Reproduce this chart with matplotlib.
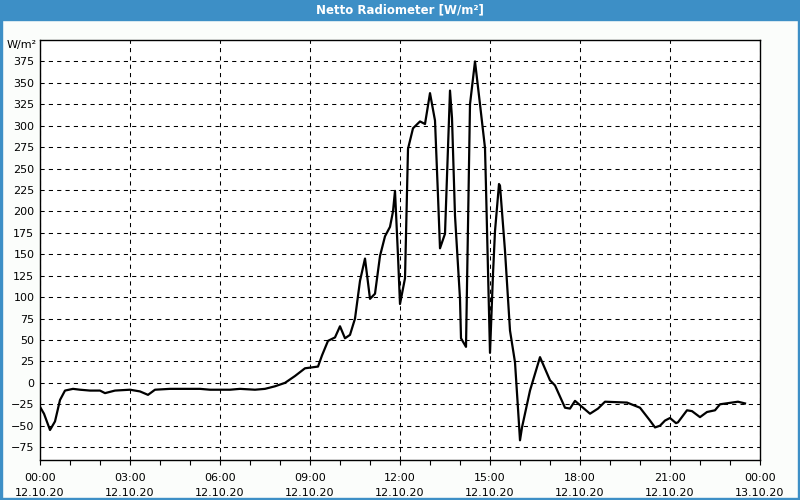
import matplotlib
matplotlib.use("Agg")
import matplotlib.pyplot as plt
import matplotlib.dates as mdates
import pandas as pd

# Netto Radiometer, 12.10.20
times = ["00:00", "00:08", "00:20", "00:30", "00:40", "00:50", "01:06", "01:20",
         "01:40", "02:00", "02:10", "02:30", "03:00", "03:20", "03:36", "03:50",
         "04:20", "05:20", "05:40", "06:20", "06:40", "07:10", "07:30", "07:50",
         "08:10", "08:30", "08:50", "09:16", "09:24", "09:36", "09:50", "10:00",
         "10:10", "10:20", "10:30", "10:40", "10:50", "11:00", "11:10", "11:20",
         "11:30", "11:40", "11:46", "11:50", "11:56", "12:00", "12:10", "12:16",
         "12:26", "12:40", "12:50", "13:00", "13:10", "13:16", "13:20", "13:30",
         "13:34", "13:40", "13:44", "13:50", "14:00", "14:02", "14:12", "14:20",
         "14:30", "14:40", "14:50", "14:52", "14:56", "15:00", "15:06", "15:10",
         "15:18", "15:20", "15:30", "15:40", "15:50", "15:56", "16:00", "16:04",
         "16:20", "16:40", "17:00", "17:10", "17:30", "17:40", "17:50", "18:00",
         "18:20", "18:36", "18:50", "19:34", "20:00", "20:20", "20:30", "20:40",
         "20:50", "21:00", "21:12", "21:16", "21:34", "21:44", "22:00", "22:14",
         "22:30", "22:40", "23:04", "23:16", "23:30"]
values = [-28, -36, -55, -45, -20, -9, -7, -8,
          -9, -9, -12, -9, -8, -10, -14, -8,
          -7, -7, -8, -8, -7, -8, -7, -4,
          0, 8, 17, 19, 32, 49, 53, 66,
          52, 56, 75, 119, 145, 98, 104, 148,
          171, 182, 200, 224, 148, 92, 122, 273,
          297, 305, 302, 338, 306, 218, 157, 174,
          241, 341, 309, 195, 98, 52, 42, 325,
          375, 325, 274, 228, 131, 35, 127, 177,
          232, 230, 154, 61, 24, -30, -67, -52,
          -9, 30, 3, -3, -29, -30, -21, -26,
          -36, -30, -22, -23, -29, -44, -52, -50,
          -44, -41, -47, -46, -32, -33, -40, -34,
          -32, -25, -23, -22, -24]
day = "2020-10-12"
y_ticks = list(range(-75, 400, 25))

t = pd.to_datetime([day + " " + s for s in times])

fig = plt.figure(figsize=(8, 5), dpi=100, facecolor="#fbfdfb")

# title bar + thin blue frame
fig.patches.append(plt.Rectangle((0, 0.96), 1, 0.04, transform=fig.transFigure,
                                 color="#3d8fc6", zorder=0))
for r in [(0, 0, 0.003, 1), (0.997, 0, 0.003, 1), (0, 0, 1, 0.004)]:
    fig.patches.append(plt.Rectangle(r[:2], r[2], r[3], transform=fig.transFigure,
                                     color="#3d8fc6", zorder=0))
fig.text(0.5, 0.98, "Netto Radiometer [W/m²]", color="white", fontsize=8.5,
         fontweight="bold", ha="center", va="center")

ax = fig.add_axes([0.05, 0.08, 0.90, 0.84])
ax.set_facecolor("white")
ax.plot(t, values, color="black", linewidth=1.6)

ax.set_xlim(pd.Timestamp(day), pd.Timestamp(day) + pd.Timedelta(days=1))
ax.set_ylim(-90, 400)
ax.set_yticks(y_ticks)

ax.xaxis.set_major_locator(mdates.HourLocator(byhour=range(0, 24, 3)))
ax.xaxis.set_minor_locator(mdates.HourLocator())
ax.xaxis.set_major_formatter(mdates.DateFormatter("%H:%M\n%d.%m.%y"))

ax.grid(True, which="major", color="black", linestyle=(0, (4, 4)), linewidth=0.75)
ax.tick_params(axis="x", which="both", length=3.5, width=0.8, labelsize=8, pad=6)
ax.tick_params(axis="y", length=0, labelsize=8, pad=4)
for lab in ax.get_xticklabels():
    lab.set_linespacing(1.6)
for s in ax.spines.values():
    s.set_linewidth(1.0)

ax.text(-0.004, 1.0, "W/m²", transform=ax.transAxes, ha="right", va="top", fontsize=8)

fig.savefig("out.png", dpi=100, facecolor=fig.get_facecolor())
